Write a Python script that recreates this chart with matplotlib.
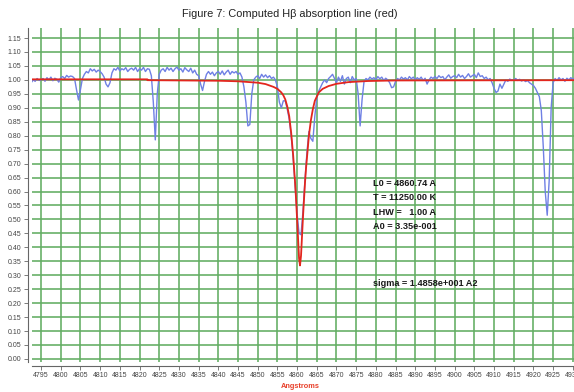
"""Figure 7: observed spectrum around H-beta (blue) with the computed
absorption profile (red) on a green engineering-paper grid."""
import numpy as np
import matplotlib

matplotlib.use("Agg")
import matplotlib.pyplot as plt  # noqa: E402

plt.rcParams["font.family"] = ["Liberation Sans", "DejaVu Sans"]

# observed spectrum, sampled every 0.5 A from 4792.5 to 4932.0
blue_wl = np.arange(4792.5, 4932.01, 0.5)
blue_flux = [
    0.990, 1.000, 0.995, 1.005, 0.998,                                  # 4792.5
    1.000, 1.005, 0.995, 1.008, 1.000, 1.010, 0.997, 1.006, 1.002, 0.992,  # 4795
    1.008, 1.012, 1.005, 1.016, 1.010, 1.014, 1.012, 1.005, 0.965, 0.928,  # 4800
    0.965, 1.005, 1.020, 1.030, 1.025, 1.040, 1.032, 1.038, 1.028, 1.035,  # 4805
    1.030, 1.022, 1.010, 0.985, 0.975, 0.990, 1.025, 1.040, 1.035, 1.045,  # 4810
    1.032, 1.040, 1.036, 1.044, 1.030, 1.038, 1.042, 1.035, 1.045, 1.030,  # 4815
    1.040, 1.035, 1.045, 1.030, 1.040, 1.038, 1.015, 0.920, 0.785, 0.950,  # 4820
    1.020, 1.035, 1.040, 1.030, 1.045, 1.035, 1.042, 1.030, 1.040, 1.046,  # 4825
    1.035, 1.040, 1.028, 1.044, 1.036, 1.030, 1.042, 1.025, 1.035, 1.020,  # 4830
    1.015, 0.985, 0.962, 0.995, 1.020, 1.030, 1.020, 1.028, 1.015, 1.025,  # 4835
    1.030, 1.020, 1.032, 1.018, 1.028, 1.035, 1.020, 1.030, 1.025, 1.030,  # 4840
    1.020, 1.025, 1.010, 0.975, 0.920, 0.835, 0.840, 0.950, 1.000, 1.010,  # 4845
    1.015, 1.005, 1.020, 1.010, 1.018, 1.008, 1.015, 1.005, 1.010, 1.000,  # 4850
    0.975, 0.920, 0.900, 0.925, 0.925, 0.895, 0.860, 0.800, 0.720, 0.620,  # 4855
    0.520, 0.450, 0.445, 0.530, 0.640, 0.740, 0.815, 0.790, 0.780, 0.870,  # 4860
    0.935, 0.960, 0.975, 0.990, 1.000, 0.990, 1.005, 1.012, 1.020, 1.005,  # 4865
    0.990, 1.010, 0.995, 1.015, 0.985, 1.005, 1.010, 0.990, 1.012, 1.000,  # 4870
    1.005, 0.950, 0.835, 0.930, 0.995, 1.005, 1.000, 1.010, 1.003, 1.008,  # 4875
    1.000, 1.012, 1.004, 1.010, 0.998, 1.006, 1.000, 0.990, 0.972, 0.975,  # 4880
    0.995, 1.005, 1.000, 1.010, 1.003, 1.008, 1.000, 1.012, 1.004, 1.010,  # 4885
    1.000, 1.008, 1.002, 1.010, 0.998, 1.006, 0.985, 1.000, 1.010, 1.005,  # 4890
    1.012, 1.005, 1.015, 1.008, 1.012, 1.000, 1.010, 1.018, 1.006, 1.012,  # 4895
    1.015, 1.008, 1.020, 1.010, 1.016, 1.005, 1.012, 1.022, 1.010, 1.015,  # 4900
    1.020, 1.008, 1.025, 1.012, 1.015, 1.005, 1.010, 1.000, 1.005, 0.990,  # 4905
    0.970, 0.955, 0.960, 0.985, 0.970, 0.985, 1.000, 0.995, 1.003, 0.998,  # 4910
    1.000, 1.005, 0.998, 1.002, 0.996, 1.000, 0.994, 0.998, 0.990, 0.985,  # 4915
    0.980, 0.970, 0.955, 0.940, 0.890, 0.760, 0.600, 0.515, 0.640, 0.900,  # 4920
    0.990, 1.005, 0.998, 1.008, 1.000, 1.005, 0.995, 1.006, 1.000, 1.008,  # 4925
    1.002, 1.008, 0.998, 1.005, 1.000,                                  # 4930
]
assert len(blue_flux) == len(blue_wl)

# computed H-beta profile
red_wl = [4792.5, 4822.0, 4822.0, 4840.0, 4845.0, 4850.0, 4852.0, 4854.0,
          4855.0, 4856.0, 4856.5, 4857.0, 4857.5, 4858.0, 4858.5, 4859.0,
          4859.25, 4859.5, 4859.75, 4860.0, 4860.25, 4860.5, 4860.74,
          4861.0, 4861.25, 4861.5, 4861.75, 4862.0, 4862.25, 4862.5,
          4863.0, 4863.5, 4864.0, 4864.5, 4865.5, 4866.5, 4868.0, 4870.0,
          4873.0, 4878.0, 4885.0, 4932.0]
red_flux = [1.002, 1.002, 0.999, 0.997, 0.995, 0.990, 0.985, 0.975,
            0.968, 0.955, 0.945, 0.930, 0.905, 0.870, 0.810, 0.730,
            0.680, 0.630, 0.570, 0.500, 0.430, 0.360, 0.335,
            0.370, 0.440, 0.510, 0.570, 0.630, 0.680, 0.720,
            0.800, 0.855, 0.895, 0.925, 0.955, 0.968, 0.978, 0.986,
            0.992, 0.996, 0.998, 0.999]

fit_lines = ["L0 = 4860.74 A", "T = 11250.00 K", "LHW =   1.00 A", "A0 = 3.35e-001"]
fit_y = [0.627, 0.577, 0.525, 0.473]
sigma_text = "sigma = 1.4858e+001 A2"

x_ticks = np.arange(4795, 4931, 5)
y_ticks = np.arange(0.0, 1.151, 0.05)

GRID = "#62ad62"
BLUE = "#6f80e4"
RED = "#e3261e"

fig = plt.figure(figsize=(5.74, 3.92), dpi=100)
ax = fig.add_axes([32 / 574, 1 - 362 / 392, 542 / 574, 334 / 392])

ax.plot(blue_wl, blue_flux, color=BLUE, lw=1.0, zorder=3)
ax.plot(red_wl, red_flux, color=RED, lw=1.3, zorder=4)

ax.set_xlim(4792.7, 4930.3)
ax.set_ylim(-0.011, 1.186)
ax.set_xticks(x_ticks)
ax.set_yticks(y_ticks)
ax.set_yticklabels([f"{v:.2f}" for v in y_ticks])
ax.grid(True, color=GRID, lw=1.15)
ax.set_axisbelow(True)

for side in ("top", "right"):
    ax.spines[side].set_visible(False)
for side in ("left", "bottom"):
    ax.spines[side].set_position(("outward", 3))
    ax.spines[side].set_color("#666666")
    ax.spines[side].set_linewidth(0.8)
ax.tick_params(axis="both", length=3, width=0.6, color="#666666",
               labelsize=5.0, labelcolor="#444444", pad=1.5)

for txt, y in zip(fit_lines, fit_y):
    ax.text(4879.3, y, txt, fontsize=6.6, fontweight="bold", color="#1a1a1a",
            va="center", ha="left", zorder=5)
ax.text(4879.3, 0.272, sigma_text, fontsize=6.6, fontweight="bold",
        color="#1a1a1a", va="center", ha="left", zorder=5)

fig.text(0.505, 0.964, "Figure 7: Computed H\u03b2 absorption line (red)",
         ha="center", va="center", fontsize=7.9, color="#222222")
fig.text(0.523, 0.013, "Angstroms", ha="center", va="center", fontsize=5.3,
         fontweight="bold", color="#e8402a")

fig.savefig("out.png", dpi=100)
